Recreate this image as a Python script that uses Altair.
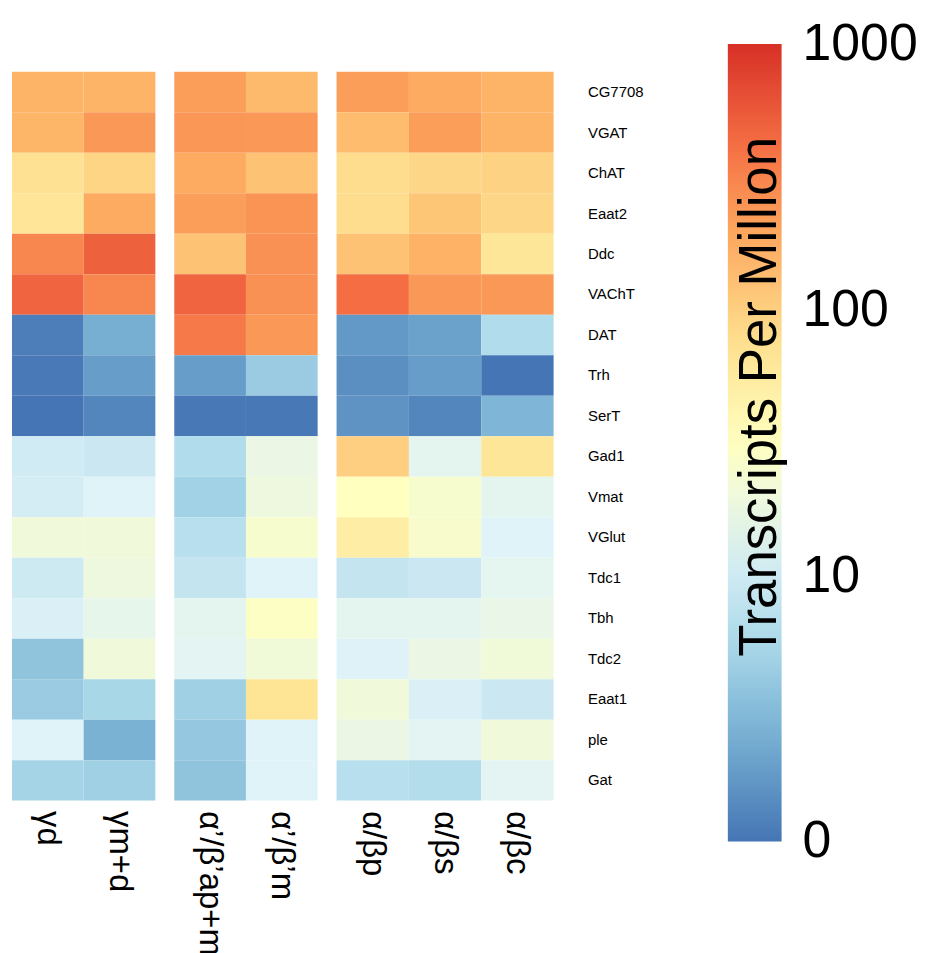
import altair as alt
import pandas as pd

genes = ["CG7708", "VGAT", "ChAT", "Eaat2", "Ddc", "VAChT", "DAT", "Trh", "SerT",
         "Gad1", "Vmat", "VGlut", "Tdc1", "Tbh", "Tdc2", "Eaat1", "ple", "Gat"]

groups = [
    ["γd", "γm+d"],
    ["α’/β’ap+m", "α’/β’m"],
    ["α/βp", "α/βs", "α/βc"],
]

# Transcripts Per Million, one list per neuron type (rows follow `genes`)
gamma_d = [160, 155, 72, 65, 300, 470, 1.15, 1.07, 1.0, 10.3, 11, 21, 9.8, 12, 3.7, 4.3, 13.3, 5.1]
gamma_md = [160, 235, 92, 185, 500, 300, 2.45, 1.86, 1.3, 9.4, 13.3, 21, 19.5, 16.4, 21, 5.4, 2.6, 4.7]
ab_prime_apm = [220, 245, 185, 220, 126, 470, 355, 1.86, 1.05, 6.25, 4.9, 6.9, 8.5, 15, 14.3, 4.7, 4.0, 3.7]
ab_prime_m = [145, 235, 126, 250, 260, 260, 235, 4.3, 1.05, 18, 19.5, 25, 13.3, 29.5, 21.5, 68, 13.3, 13.3]
ab_p = [220, 140, 78, 78, 126, 420, 1.74, 1.5, 1.6, 100, 31.6, 51, 8.5, 15, 12.9, 21, 18, 6.9]
ab_s = [185, 220, 89, 120, 165, 235, 2.0, 1.86, 1.3, 15, 25, 26, 9.4, 15, 18, 12, 14.3, 6.5]
ab_c = [160, 160, 95, 89, 63, 235, 6.2, 1.0, 2.8, 63, 15, 13.3, 15.3, 17, 21.5, 9.4, 21, 14.3]

columns = {
    "γd": gamma_d, "γm+d": gamma_md,
    "α’/β’ap+m": ab_prime_apm, "α’/β’m": ab_prime_m,
    "α/βp": ab_p, "α/βs": ab_s, "α/βc": ab_c,
}

legend_title = "Transcripts Per Million"
legend_ticks = [1, 10, 100, 1000]
colors = ["#4575b4", "#74add1", "#abd9e9", "#e0f3f8", "#ffffbf",
          "#fee090", "#fdae61", "#f46d43", "#d73027"]

rows = []
for gi, grp in enumerate(groups):
    for c in grp:
        for g, v in zip(genes, columns[c]):
            rows.append({"group": gi, "cell": c, "gene": g, "tpm": v})
df = pd.DataFrame(rows)

color = alt.Color(
    "tpm:Q",
    scale=alt.Scale(type="log", domain=[0.9999, 1000.1], range=colors, interpolate="rgb"),
    legend=alt.Legend(
        title="\u2800\u2800\u00a0" + legend_title,
        titleOrient="left",
        titleFontSize=53,
        titleFontWeight="normal",
        titleColor="black",
        titlePadding=-60,
        titleAnchor="middle",
        titleLimit=1000,
        values=legend_ticks,
        labelExpr="datum.value == 1 ? '0' : format(datum.value, 'd')",
        labelFontSize=52,
        labelColor="black",
        labelBaseline="middle",
        labelOffset=21,
        gradientLength=801,
        gradientThickness=54,
        gradientStrokeWidth=0,
        orient="none",
        legendX=725,
        legendY=-28,
        direction="vertical",
    ),
)

widths = [144, 144, 218]
panels = []
for gi, grp in enumerate(groups):
    y_axis = None
    if gi == 2:
        y_axis = alt.Axis(orient="right", title=None, domain=False, ticks=False,
                          labelPadding=34, labelFontSize=15, labelColor="black")
    p = alt.Chart(df[df["group"] == gi]).mark_rect().encode(
        x=alt.X("cell:N", sort=grp, scale=alt.Scale(paddingInner=0, paddingOuter=0),
                axis=alt.Axis(title=None, labelAngle=90, labelFontSize=33, domain=False,
                              ticks=False, labelPadding=10, labelLimit=400,
                              labelColor="black")),
        y=alt.Y("gene:N", sort=genes, scale=alt.Scale(paddingInner=0, paddingOuter=0),
                axis=y_axis),
        color=color,
    ).properties(width=widths[gi], height=732)
    panels.append(p)

chart = alt.hconcat(*panels, spacing=19).resolve_scale(
    x="independent", color="shared"
).properties(
    padding={"left": 4, "top": 34, "right": 0, "bottom": 5}
).configure(
    font="Liberation Sans",
    view=alt.ViewConfig(stroke=None),
)

chart.save("out.html", embed_options={"renderer": "svg", "actions": False})
